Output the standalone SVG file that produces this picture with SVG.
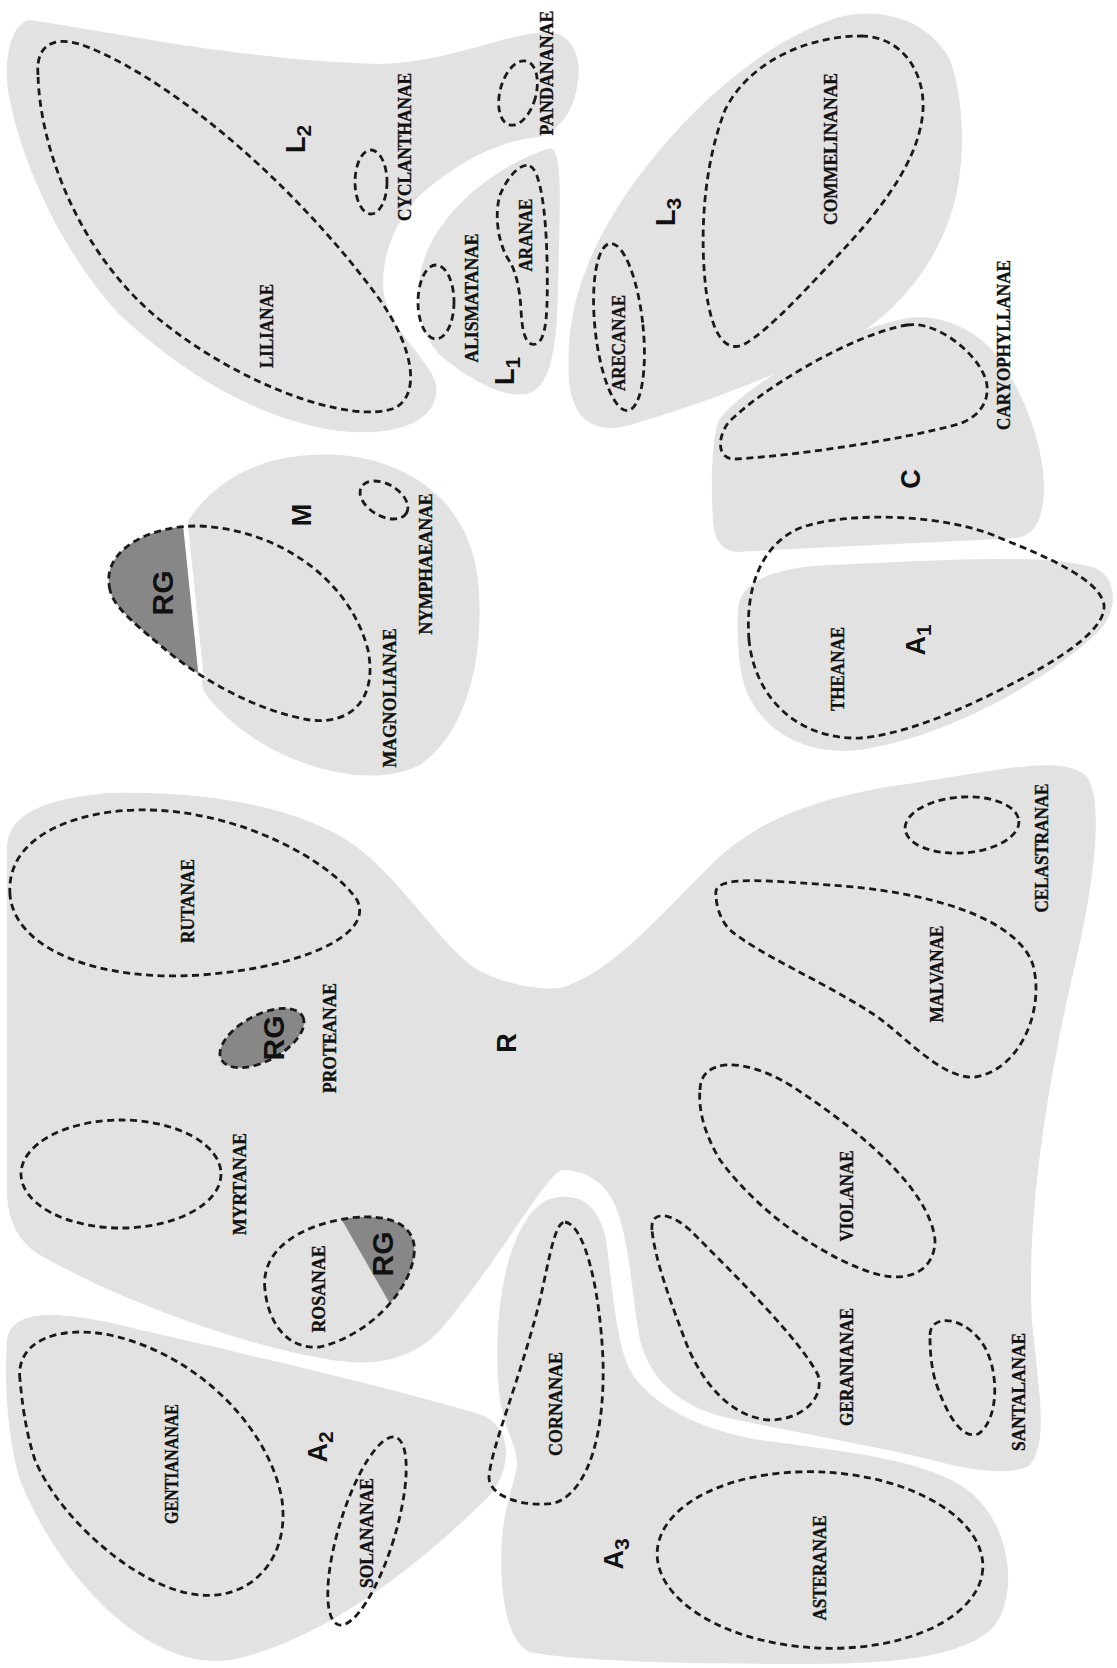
<svg xmlns="http://www.w3.org/2000/svg" width="1117" height="1668" viewBox="0 0 1117 1668">
<style>
.region{fill:#e2e2e2}
.rg{fill:#878787}
.dash{fill:none;stroke:#1a1a1a;stroke-width:2.8;stroke-dasharray:7 4.5}
.tx{font-family:"Liberation Serif","Times New Roman",serif;font-weight:bold;font-size:19px;fill:#111;stroke:#111;stroke-width:0.35}
.lb{font-family:"Liberation Sans",Arial,sans-serif;font-weight:bold;font-size:27px;fill:#111}
.rgt{font-family:"Liberation Sans",Arial,sans-serif;font-weight:bold;font-size:30px;fill:#111}
</style>
<defs>
<path id="magPath" d="M 110,590 C 100,550 150,525 200,526 C 280,530 350,580 368,650 C 378,700 350,725 310,720 C 260,712 200,680 160,645 C 130,620 113,605 110,590 Z"/>
<path id="rosPath" d="M 265,1290 C 260,1250 300,1225 350,1218 C 390,1213 418,1225 414,1255 C 410,1290 370,1335 320,1347 C 285,1350 268,1320 265,1290 Z"/>
<clipPath id="clipMag"><use href="#magPath"/></clipPath>
<clipPath id="clipRos"><use href="#rosPath"/></clipPath>
</defs>
<rect width="1117" height="1668" fill="#ffffff"/>

<g id="L2">
<path class="region" d="M 29,20 C 90,28 250,62 380,64 C 450,62 500,35 545,32 C 570,31 582,55 578,80 C 575,110 560,130 540,137 C 500,140 460,160 420,195 C 390,225 378,270 385,300 C 395,335 430,360 436,385 C 440,420 400,435 350,432 C 270,425 190,380 120,315 C 60,250 20,160 8,90 C 4,60 10,25 29,20 Z"/>
<path class="dash" d="M 38,75 C 35,40 60,35 90,48 C 180,85 300,190 380,300 C 415,350 420,395 395,408 C 350,425 240,385 160,320 C 80,255 40,150 38,75 Z"/>
<ellipse class="dash" cx="371" cy="182" rx="16" ry="32"/>
<ellipse class="dash" cx="518" cy="93" rx="18" ry="33" transform="rotate(15 518 93)"/>
<text class="tx" transform="translate(266,326) rotate(-90)" text-anchor="middle" dy="0.35em" textLength="84" lengthAdjust="spacingAndGlyphs">LILIANAE</text>
<text class="tx" transform="translate(404,147) rotate(-90)" text-anchor="middle" dy="0.35em" textLength="148" lengthAdjust="spacingAndGlyphs">CYCLANTHANAE</text>
<text class="tx" transform="translate(546,73) rotate(-90)" text-anchor="middle" dy="0.35em" textLength="125" lengthAdjust="spacingAndGlyphs">PANDANANAE</text>
<text class="lb" transform="translate(296,139) rotate(-90)" text-anchor="middle" dy="0.35em">L<tspan font-size="21" dy="6">2</tspan></text>
</g>

<g id="L1">
<path class="region" d="M 551,148 C 563,155 560,200 558,290 C 557,350 550,385 530,393 C 505,400 470,380 440,355 C 415,330 412,280 430,245 C 455,195 510,160 551,148 Z"/>
<ellipse class="dash" cx="436" cy="302" rx="18" ry="37"/>
<path class="dash" d="M 530,166 C 540,170 546,210 547,260 C 548,310 547,340 536,344 C 525,347 522,330 521,310 C 520,290 516,272 510,262 C 498,245 494,215 500,195 C 507,178 520,162 530,166 Z"/>
<text class="tx" transform="translate(471,298) rotate(-90)" text-anchor="middle" dy="0.35em" textLength="129" lengthAdjust="spacingAndGlyphs">ALISMATANAE</text>
<text class="tx" transform="translate(525,235) rotate(-90)" text-anchor="middle" dy="0.35em" textLength="73" lengthAdjust="spacingAndGlyphs">ARANAE</text>
<text class="lb" transform="translate(505,371) rotate(-90)" text-anchor="middle" dy="0.35em">L<tspan font-size="21" dy="6">1</tspan></text>
</g>

<g id="L3">
<path class="region" d="M 836,18 C 880,5 930,20 950,60 C 965,100 965,160 955,200 C 940,260 900,310 850,340 C 790,370 700,405 630,425 C 595,435 572,420 569,380 C 566,330 575,280 610,220 C 650,150 740,50 836,18 Z"/>
<path class="dash" d="M 861,36 C 900,36 925,70 923,110 C 920,160 880,210 843,250 C 810,285 770,330 743,345 C 725,352 712,335 706,290 C 700,240 702,170 725,110 C 750,60 810,36 861,36 Z"/>
<ellipse class="dash" cx="619" cy="327" rx="24" ry="84" transform="rotate(-6 619 327)"/>
<text class="tx" transform="translate(830,149) rotate(-90)" text-anchor="middle" dy="0.35em" textLength="152" lengthAdjust="spacingAndGlyphs">COMMELINANAE</text>
<text class="tx" transform="translate(618,343) rotate(-90)" text-anchor="middle" dy="0.35em" textLength="96" lengthAdjust="spacingAndGlyphs">ARECANAE</text>
<text class="lb" transform="translate(666,212) rotate(-90)" text-anchor="middle" dy="0.35em">L<tspan font-size="21" dy="6">3</tspan></text>
</g>

<g id="M">
<path class="region" d="M 186,524 C 225,462 290,452 340,455 C 420,462 470,510 478,580 C 485,650 470,730 420,765 C 380,785 320,775 270,748 C 240,732 212,705 203,690 Z"/>
<path class="rg" clip-path="url(#clipMag)" d="M 0,480 L 183.5,480 L 204,700 L 0,700 Z"/>
<line x1="185" y1="520" x2="201.5" y2="680" stroke="#ffffff" stroke-width="5"/>
<use href="#magPath" class="dash"/>
<ellipse class="dash" cx="384" cy="500" rx="26" ry="16" transform="rotate(30 384 500)"/>
<text class="rgt" transform="translate(162,593) rotate(-90)" text-anchor="middle" dy="0.35em">RG</text>
<text class="lb" transform="translate(302,515) rotate(-90)" text-anchor="middle" dy="0.35em">M</text>
<text class="tx" transform="translate(389,698) rotate(-90)" text-anchor="middle" dy="0.35em" textLength="139" lengthAdjust="spacingAndGlyphs">MAGNOLIANAE</text>
<text class="tx" transform="translate(425,564) rotate(-90)" text-anchor="middle" dy="0.35em" textLength="141" lengthAdjust="spacingAndGlyphs">NYMPHAEANAE</text>
</g>

<g id="C">
<path class="region" d="M 908,318 C 950,313 985,338 1000,360 C 1025,395 1045,450 1044,490 C 1043,520 1035,536 1015,538 C 950,542 800,548 740,552 C 722,552 714,540 713,520 C 711,490 711,440 719,420 C 740,390 830,333 908,318 Z"/>
<path class="dash" d="M 907,325 C 940,320 985,360 987,386 C 989,405 975,420 955,425 C 900,440 800,455 736,459 C 718,460 716,440 728,423 C 760,390 850,335 907,325 Z"/>
<text class="tx" transform="translate(1003,345) rotate(-90)" text-anchor="middle" dy="0.35em" textLength="170" lengthAdjust="spacingAndGlyphs">CARYOPHYLLANAE</text>
<text class="lb" transform="translate(911,479) rotate(-90)" text-anchor="middle" dy="0.35em">C</text>
</g>

<g id="A1">
<path class="region" d="M 738,615 C 736,585 765,568 830,565 C 940,560 1050,553 1095,568 C 1118,578 1118,610 1100,630 C 1060,670 960,735 860,750 C 790,758 745,715 740,665 C 738,645 737,630 738,615 Z"/>
<path class="dash" d="M 749,640 C 745,590 760,545 800,528 C 850,510 950,515 1000,538 C 1050,558 1100,580 1104,605 C 1106,630 1060,660 1000,690 C 950,715 900,735 860,738 C 800,740 755,700 749,640 Z"/>
<text class="tx" transform="translate(837,669) rotate(-90)" text-anchor="middle" dy="0.35em" textLength="84" lengthAdjust="spacingAndGlyphs">THEANAE</text>
<text class="lb" transform="translate(916,640) rotate(-90)" text-anchor="middle" dy="0.35em">A<tspan font-size="21" dy="6">1</tspan></text>
</g>

<g id="R">
<path class="region" d="M 7,845 C 10,815 40,800 107,793 C 200,790 300,805 357,847 C 400,880 430,930 470,965 C 500,985 540,990 560,988 C 610,975 660,915 718,858 C 760,820 820,795 914,783 C 1000,770 1060,755 1085,775 C 1105,795 1095,880 1075,965 C 1055,1050 1025,1200 1032,1322 C 1040,1400 1048,1440 1030,1465 C 1010,1478 960,1468 932,1460 C 880,1447 780,1430 720,1416 C 680,1405 650,1380 640,1340 C 632,1300 630,1240 615,1205 C 605,1182 585,1170 562,1170 C 545,1175 500,1260 440,1330 C 410,1362 370,1368 321,1358 C 220,1340 100,1290 40,1255 C 15,1240 7,1215 7,1190 Z"/>
<path class="dash" d="M 10,895 C 5,830 90,808 150,810 C 240,812 330,860 357,900 C 375,935 300,968 200,975 C 100,982 15,950 10,895 Z"/>
<ellipse class="rg" cx="262" cy="1038" rx="46" ry="23" transform="rotate(-28 262 1038)"/>
<ellipse class="dash" cx="262" cy="1038" rx="46" ry="23" transform="rotate(-28 262 1038)"/>
<ellipse class="dash" cx="121" cy="1174" rx="100" ry="54"/>
<path class="rg" clip-path="url(#clipRos)" d="M 319,1180 L 520,1180 L 520,1330 L 405,1330 Z"/>
<use href="#rosPath" class="dash"/>
<path class="dash" d="M 716,895 C 712,875 760,880 843,886 C 950,895 1020,925 1033,965 C 1045,1010 1020,1070 975,1077 C 940,1080 900,1030 870,1012 C 820,980 760,955 730,930 C 720,920 716,905 716,895 Z"/>
<ellipse class="dash" cx="962" cy="825" rx="57" ry="28" transform="rotate(-4 962 825)"/>
<path class="dash" d="M 700,1090 C 700,1060 740,1055 790,1085 C 860,1130 930,1190 935,1240 C 935,1270 910,1282 880,1275 C 830,1262 760,1215 720,1160 C 705,1135 698,1110 700,1090 Z"/>
<path class="dash" d="M 652,1230 C 650,1210 670,1212 690,1230 C 740,1280 800,1340 818,1375 C 825,1400 800,1420 770,1420 C 730,1418 700,1380 685,1340 C 670,1300 655,1260 652,1230 Z"/>
<path class="dash" d="M 930,1335 C 930,1315 960,1315 980,1340 C 1000,1365 1000,1420 978,1434 C 960,1440 945,1410 935,1380 C 930,1360 930,1345 930,1335 Z"/>
<text class="tx" transform="translate(187,901) rotate(-90)" text-anchor="middle" dy="0.35em" textLength="84" lengthAdjust="spacingAndGlyphs">RUTANAE</text>
<text class="rgt" transform="translate(273,1038) rotate(-90)" text-anchor="middle" dy="0.35em">RG</text>
<text class="tx" transform="translate(329,1038) rotate(-90)" text-anchor="middle" dy="0.35em" textLength="110" lengthAdjust="spacingAndGlyphs">PROTEANAE</text>
<text class="tx" transform="translate(239,1184) rotate(-90)" text-anchor="middle" dy="0.35em" textLength="102" lengthAdjust="spacingAndGlyphs">MYRTANAE</text>
<text class="tx" transform="translate(318,1289) rotate(-90)" text-anchor="middle" dy="0.35em" textLength="87" lengthAdjust="spacingAndGlyphs">ROSANAE</text>
<text class="rgt" transform="translate(382,1254) rotate(-90)" text-anchor="middle" dy="0.35em">RG</text>
<text class="lb" transform="translate(507,1043) rotate(-90)" text-anchor="middle" dy="0.35em">R</text>
<text class="tx" transform="translate(936,974) rotate(-90)" text-anchor="middle" dy="0.35em" textLength="97" lengthAdjust="spacingAndGlyphs">MALVANAE</text>
<text class="tx" transform="translate(1041,848) rotate(-90)" text-anchor="middle" dy="0.35em" textLength="129" lengthAdjust="spacingAndGlyphs">CELASTRANAE</text>
<text class="tx" transform="translate(846,1196) rotate(-90)" text-anchor="middle" dy="0.35em" textLength="91" lengthAdjust="spacingAndGlyphs">VIOLANAE</text>
<text class="tx" transform="translate(846,1367) rotate(-90)" text-anchor="middle" dy="0.35em" textLength="118" lengthAdjust="spacingAndGlyphs">GERANIANAE</text>
<text class="tx" transform="translate(1018,1392) rotate(-90)" text-anchor="middle" dy="0.35em" textLength="118" lengthAdjust="spacingAndGlyphs">SANTALANAE</text>
</g>

<g id="A2">
<path class="region" d="M 7,1340 C 10,1315 40,1308 107,1322 C 250,1355 400,1390 482,1415 C 513,1428 512,1468 490,1495 C 430,1555 330,1640 230,1660 C 150,1672 60,1580 20,1480 C 5,1430 5,1370 7,1340 Z"/>
<path class="dash" d="M 20,1380 C 15,1340 60,1325 110,1335 C 200,1355 270,1430 282,1500 C 290,1560 250,1600 200,1595 C 140,1590 60,1520 35,1460 C 25,1430 22,1400 20,1380 Z"/>
<ellipse class="dash" cx="367" cy="1531" rx="28" ry="98" transform="rotate(17 367 1531)"/>
<text class="tx" transform="translate(171,1464) rotate(-90)" text-anchor="middle" dy="0.35em" textLength="120" lengthAdjust="spacingAndGlyphs">GENTIANANAE</text>
<text class="tx" transform="translate(366,1533) rotate(-90)" text-anchor="middle" dy="0.35em" textLength="110" lengthAdjust="spacingAndGlyphs">SOLANANAE</text>
<text class="lb" transform="translate(318,1447) rotate(-90)" text-anchor="middle" dy="0.35em">A<tspan font-size="21" dy="6">2</tspan></text>
</g>

<g id="A3">
<path class="region" d="M 560,1197 C 585,1195 600,1210 606,1240 C 612,1280 615,1340 630,1370 C 650,1405 700,1430 760,1440 C 850,1452 920,1460 960,1485 C 1010,1515 1020,1590 995,1625 C 965,1660 880,1664 800,1664 C 700,1664 580,1662 530,1652 C 500,1640 497,1560 505,1515 C 510,1490 517,1475 517,1462 C 516,1445 505,1430 500,1400 C 494,1350 498,1290 512,1250 C 525,1215 540,1198 560,1197 Z"/>
<path class="dash" d="M 565,1222 C 585,1225 600,1290 603,1360 C 605,1430 590,1490 555,1503 C 525,1508 490,1497 489,1478 C 490,1450 520,1380 540,1300 C 550,1255 555,1222 565,1222 Z"/>
<ellipse class="dash" cx="820" cy="1560" rx="163" ry="88" transform="rotate(3 820 1560)"/>
<text class="tx" transform="translate(555,1404) rotate(-90)" text-anchor="middle" dy="0.35em" textLength="104" lengthAdjust="spacingAndGlyphs">CORNANAE</text>
<text class="tx" transform="translate(819,1568) rotate(-90)" text-anchor="middle" dy="0.35em" textLength="105" lengthAdjust="spacingAndGlyphs">ASTERANAE</text>
<text class="lb" transform="translate(614,1554) rotate(-90)" text-anchor="middle" dy="0.35em">A<tspan font-size="21" dy="6">3</tspan></text>
</g>

<g id="connectors"/>
</svg>
